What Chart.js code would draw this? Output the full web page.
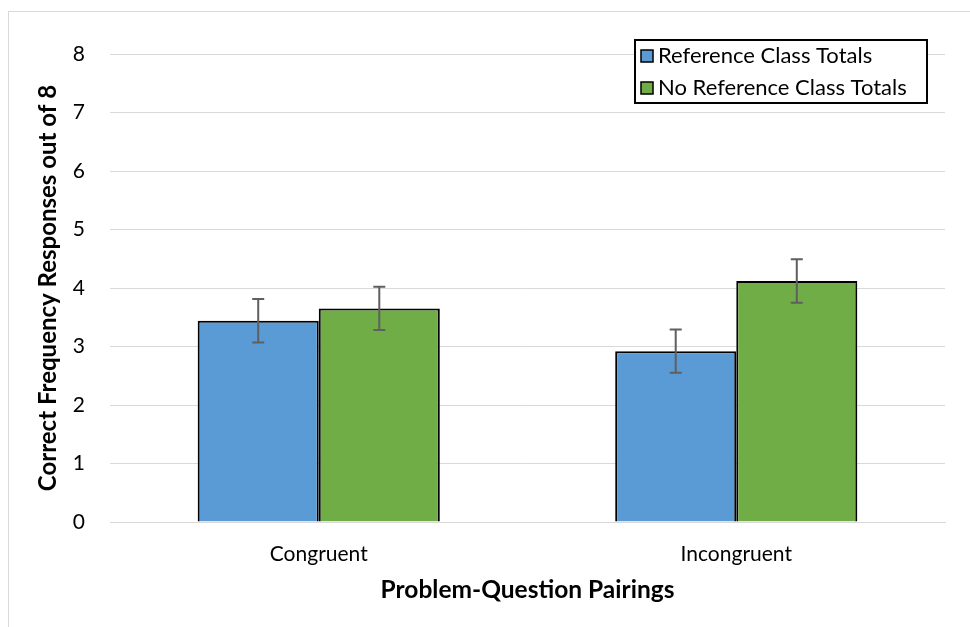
<!DOCTYPE html>
<html>
<head>
<meta charset="utf-8">
<script src="https://cdn.jsdelivr.net/npm/chart.js@4.4.1/dist/chart.umd.min.js"></script>
<style>
  html, body { margin: 0; padding: 0; background: #fff; }
  #frame { position: absolute; left: 8px; top: 11px; width: 980px; height: 640px; border: 1px solid #d9d9d9; box-sizing: border-box; }
  #wrap { position: absolute; left: 0; top: 0; width: 970px; height: 627px; }
</style>
</head>
<body>
<div id="frame"></div>
<div id="wrap"><canvas id="chart"></canvas></div>
<script>
const categories = ['Congruent', 'Incongruent'];
const seriesNames = ['Reference Class Totals', 'No Reference Class Totals'];
const refTotals = [3.44, 2.92];
const noRefTotals = [3.65, 4.12];
const refErrors = [0.37, 0.37];
const noRefErrors = [0.37, 0.37];
const yTicks = [0, 1, 2, 3, 4, 5, 6, 7, 8];

const FONT = 'Lato, "Open Sans", "Liberation Sans", sans-serif';

// error bars drawn through the y scale
const errorBars = {
  id: 'errorBars',
  afterDatasetsDraw(chart) {
    const ctx = chart.ctx;
    const y = chart.scales.y;
    const errs = [refErrors, noRefErrors];
    ctx.save();
    ctx.strokeStyle = '#5f5f5f';
    ctx.lineWidth = 2;
    chart.data.datasets.forEach((ds, i) => {
      chart.getDatasetMeta(i).data.forEach((bar, j) => {
        const v = ds.data[j];
        const top = y.getPixelForValue(v + errs[i][j]);
        const bot = y.getPixelForValue(v - errs[i][j]);
        const x = bar.x;
        ctx.beginPath();
        ctx.moveTo(x, top); ctx.lineTo(x, bot);
        ctx.moveTo(x - 6, top); ctx.lineTo(x + 6, top);
        ctx.moveTo(x - 6, bot); ctx.lineTo(x + 6, bot);
        ctx.stroke();
      });
    });
    ctx.restore();
  }
};

// boxed legend inside the plot, top right
const boxLegend = {
  id: 'boxLegend',
  afterDraw(chart) {
    const ctx = chart.ctx;
    const a = chart.chartArea;
    const right = a.right - 18;
    const left = right - 292;
    const top = 40;
    const bottom = 103;
    ctx.save();
    ctx.fillStyle = '#fff';
    ctx.fillRect(left, top, right - left, bottom - top);
    ctx.strokeStyle = '#000';
    ctx.lineWidth = 2;
    ctx.strokeRect(left, top, right - left, bottom - top);
    ctx.font = '22px ' + FONT;
    ctx.textBaseline = 'middle';
    chart.data.datasets.forEach((ds, i) => {
      const cy = 56 + i * 32;
      ctx.fillStyle = ds.backgroundColor;
      ctx.fillRect(left + 6, cy - 6, 12, 12);
      ctx.lineWidth = 1.5;
      ctx.strokeRect(left + 6, cy - 6, 12, 12);
      ctx.fillStyle = '#000';
      ctx.fillText(seriesNames[i], left + 23, cy);
    });
    ctx.restore();
  }
};

new Chart(document.getElementById('chart'), {
  type: 'bar',
  data: {
    labels: categories,
    datasets: [
      { label: seriesNames[0], data: refTotals, backgroundColor: '#5b9bd5', borderColor: '#000', borderWidth: 2 },
      { label: seriesNames[1], data: noRefTotals, backgroundColor: '#70ad47', borderColor: '#000', borderWidth: 2 }
    ]
  },
  options: {
    responsive: true,
    maintainAspectRatio: false,
    animation: false,
    layout: { padding: { left: 20, right: 25, top: 54, bottom: 20 } },
    datasets: { bar: { categoryPercentage: 0.58, barPercentage: 1 } },
    plugins: { legend: { display: false }, tooltip: { enabled: false } },
    scales: {
      x: {
        grid: { display: false, drawTicks: false },
        border: { color: '#d9d9d9', width: 1 },
        ticks: { color: '#000', padding: 20, font: { family: FONT, size: 21 } },
        title: { display: true, text: 'Problem-Question Pairings', color: '#000', padding: { top: 0, bottom: 2 }, font: { family: FONT, size: 24.5, weight: 'bold' } },
        afterFit: (s) => { s.height = 85; }
      },
      y: {
        min: 0, max: 8,
        afterBuildTicks: (s) => { s.ticks = yTicks.map(v => ({ value: v })); },
        grid: { color: '#d9d9d9', drawTicks: false },
        border: { display: false },
        ticks: { color: '#000', padding: 25, font: { family: FONT, size: 21 } },
        title: { display: true, text: 'Correct Frequency Responses out of 8', color: '#000', padding: { top: 14, bottom: 0 }, font: { family: FONT, size: 24, weight: 'bold' } },
        afterFit: (s) => { s.width = 90; }
      }
    }
  },
  plugins: [errorBars, boxLegend]
});
</script>
</body>
</html>
